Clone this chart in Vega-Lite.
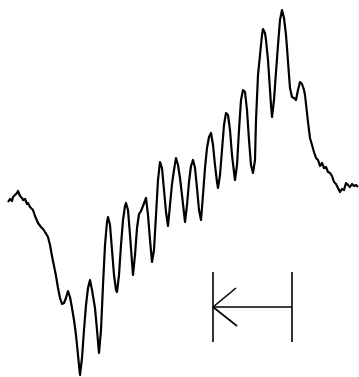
{
  "$schema": "https://vega.github.io/schema/vega-lite/v6.json",
  "width": 359,
  "height": 377,
  "padding": 0,
  "autosize": {"type": "none"},
  "background": "white",
  "config": {"view": {"stroke": null}},
  "datasets": {
    "curve": [
      {"x":8,"y":202},{"x":10,"y":199},{"x":12,"y":201},{"x":13,"y":197},{"x":15,"y":195},{"x":17,"y":193},{"x":18,"y":191},{"x":20,"y":196},{"x":22,"y":198},{"x":23,"y":200},{"x":25,"y":199},{"x":27,"y":204},{"x":28,"y":203},{"x":30,"y":207},{"x":33,"y":210},{"x":35,"y":216},{"x":38,"y":223},{"x":41,"y":227},{"x":43,"y":229},{"x":45,"y":232},{"x":48,"y":237},{"x":50,"y":245},{"x":52,"y":256},{"x":54,"y":266},{"x":56,"y":276},{"x":58,"y":288},{"x":60,"y":298},{"x":62,"y":304},{"x":64,"y":303},{"x":66,"y":298},{"x":68,"y":291},{"x":70,"y":297},{"x":72,"y":308},{"x":74,"y":320},{"x":76,"y":335},{"x":78,"y":355},{"x":80,"y":375},{"x":82,"y":358},{"x":84,"y":330},{"x":86,"y":305},{"x":88,"y":288},{"x":90,"y":280},{"x":92,"y":290},{"x":95,"y":308},{"x":97,"y":330},{"x":99,"y":353},{"x":101,"y":330},{"x":103,"y":285},{"x":105,"y":245},{"x":107,"y":222},{"x":108,"y":217},{"x":110,"y":225},{"x":112,"y":250},{"x":114,"y":275},{"x":116,"y":290},{"x":117,"y":292},{"x":119,"y":275},{"x":121,"y":245},{"x":123,"y":220},{"x":125,"y":206},{"x":126,"y":203},{"x":128,"y":210},{"x":130,"y":235},{"x":132,"y":262},{"x":133,"y":275},{"x":135,"y":255},{"x":137,"y":228},{"x":139,"y":214},{"x":141,"y":211},{"x":143,"y":206},{"x":146,"y":198},{"x":148,"y":215},{"x":150,"y":240},{"x":152,"y":262},{"x":154,"y":250},{"x":156,"y":215},{"x":158,"y":180},{"x":160,"y":162},{"x":162,"y":168},{"x":164,"y":190},{"x":166,"y":212},{"x":168,"y":226},{"x":170,"y":205},{"x":172,"y":184},{"x":174,"y":170},{"x":176,"y":158},{"x":178,"y":165},{"x":180,"y":178},{"x":182,"y":195},{"x":185,"y":222},{"x":187,"y":205},{"x":189,"y":182},{"x":191,"y":166},{"x":193,"y":160},{"x":195,"y":168},{"x":197,"y":188},{"x":199,"y":210},{"x":201,"y":220},{"x":203,"y":195},{"x":205,"y":168},{"x":207,"y":148},{"x":209,"y":137},{"x":211,"y":133},{"x":213,"y":145},{"x":215,"y":165},{"x":217,"y":182},{"x":218,"y":188},{"x":220,"y":175},{"x":222,"y":150},{"x":224,"y":125},{"x":226,"y":113},{"x":228,"y":115},{"x":230,"y":130},{"x":232,"y":155},{"x":234,"y":172},{"x":235,"y":180},{"x":237,"y":165},{"x":239,"y":130},{"x":241,"y":100},{"x":243,"y":90},{"x":245,"y":92},{"x":247,"y":110},{"x":249,"y":140},{"x":251,"y":165},{"x":253,"y":173},{"x":255,"y":160},{"x":256,"y":120},{"x":258,"y":75},{"x":260,"y":55},{"x":262,"y":35},{"x":263,"y":29},{"x":265,"y":33},{"x":266,"y":40},{"x":268,"y":60},{"x":270,"y":90},{"x":271,"y":105},{"x":272,"y":117},{"x":274,"y":100},{"x":276,"y":72},{"x":278,"y":45},{"x":280,"y":20},{"x":282,"y":10},{"x":284,"y":18},{"x":286,"y":35},{"x":287,"y":48},{"x":289,"y":75},{"x":290,"y":88},{"x":292,"y":97},{"x":294,"y":98},{"x":296,"y":100},{"x":298,"y":90},{"x":300,"y":82},{"x":302,"y":84},{"x":304,"y":90},{"x":305,"y":95},{"x":307,"y":113},{"x":308,"y":122},{"x":310,"y":138},{"x":312,"y":145},{"x":314,"y":152},{"x":316,"y":158},{"x":318,"y":160},{"x":320,"y":166},{"x":322,"y":163},{"x":324,"y":168},{"x":326,"y":167},{"x":328,"y":172},{"x":330,"y":173},{"x":332,"y":176},{"x":334,"y":182},{"x":336,"y":184},{"x":338,"y":188},{"x":340,"y":192},{"x":342,"y":189},{"x":344,"y":190},{"x":346,"y":183},{"x":348,"y":185},{"x":350,"y":187},{"x":352,"y":184},{"x":354,"y":186},{"x":356,"y":185},{"x":358,"y":187}
    ],
    "arrow": [
      {"x":213,"y":272,"x2":213,"y2":342},
      {"x":292,"y":272,"x2":292,"y2":342},
      {"x":213,"y":307,"x2":292,"y2":307},
      {"x":213,"y":307,"x2":236,"y2":288},
      {"x":213,"y":307,"x2":237,"y2":326}
    ]
  },
  "layer": [
    {
      "data": {"name": "curve"},
      "mark": {"type": "line", "color": "black", "strokeWidth": 2.2, "strokeJoin": "round"},
      "encoding": {
        "x": {"field": "x", "type": "quantitative", "scale": {"domain": [0, 359], "nice": false, "zero": false}, "axis": null},
        "y": {"field": "y", "type": "quantitative", "scale": {"domain": [0, 377], "reverse": true, "nice": false, "zero": false}, "axis": null}
      }
    },
    {
      "data": {"name": "arrow"},
      "mark": {"type": "rule", "color": "black", "strokeWidth": 1.6},
      "encoding": {
        "x": {"field": "x", "type": "quantitative", "scale": {"domain": [0, 359], "nice": false, "zero": false}, "axis": null},
        "y": {"field": "y", "type": "quantitative", "scale": {"domain": [0, 377], "reverse": true, "nice": false, "zero": false}, "axis": null},
        "x2": {"field": "x2"},
        "y2": {"field": "y2"}
      }
    }
  ]
}
